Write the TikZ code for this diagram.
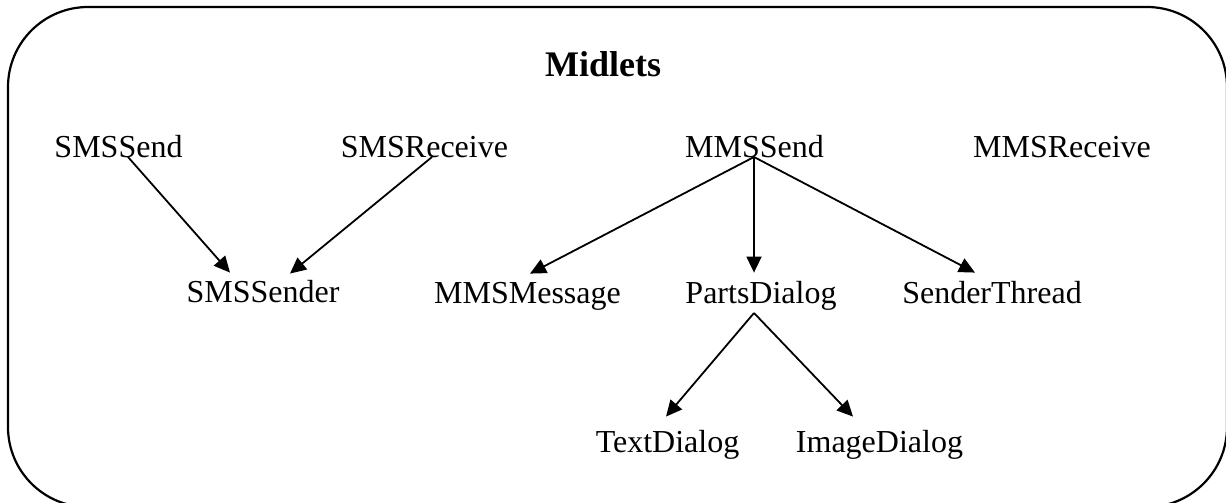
\documentclass[tikz,border=0pt]{standalone}
\usepackage{fontspec}
\setmainfont{Liberation Serif}
\usetikzlibrary{arrows.meta}

\begin{document}
\begin{tikzpicture}[x=1pt, y=-1pt,
  label/.style={inner sep=0pt, anchor=base, font=\fontsize{32}{38}\selectfont},
  heading/.style={inner sep=0pt, anchor=base, font=\fontsize{36}{42}\selectfont\bfseries},
  arr/.style={line width=1.8pt, -{Triangle[length=16pt,width=15pt]}},
  frame/.style={line width=2.2pt, rounded corners=80pt}]
  \useasboundingbox (0,0) rectangle (1226,503);
  \clip (0,0) rectangle (1226,503);
  \fill[white] (0,0) rectangle (1226,503);

  % outer rounded frame
  \draw[frame] (8,7) rectangle (1227,507);

  % title
  \node[heading] (title) at (603,77) {Midlets};

  % midlets
  \node[label] (smssend)    at (118.5,157) {SMSSend};
  \node[label] (smsreceive) at (424.5,157) {SMSReceive};
  \node[label] (mmssend)    at (754.5,157) {MMSSend};
  \node[label] (mmsreceive) at (1062,157)  {MMSReceive};

  % helper classes
  \node[label] (smssender)    at (263,302)   {SMSSender};
  \node[label] (mmsmessage)   at (527.5,303) {MMSMessage};
  \node[label] (partsdialog)  at (761,303)   {PartsDialog};
  \node[label] (senderthread) at (992,303)   {SenderThread};
  \node[label] (textdialog)   at (667.5,452) {TextDialog};
  \node[label] (imagedialog)  at (879.5,452) {ImageDialog};

  % usage arrows
  \draw[arr] ([xshift=9.5pt]smssend.base) -- ([xshift=-33pt,yshift=7pt]smssender.north);
  \draw[arr] ([xshift=7.5pt]smsreceive.base) -- ([xshift=27pt,yshift=6pt]smssender.north);

  \draw[arr] ([xshift=-0.5pt]mmssend.base) -- ([xshift=2.5pt,yshift=8pt]mmsmessage.north);
  \draw[arr] ([xshift=-0.5pt]mmssend.base) -- ([xshift=-7pt,yshift=8pt]partsdialog.north);
  \draw[arr] ([xshift=-0.5pt]mmssend.base) -- ([xshift=-17pt,yshift=8pt]senderthread.north);

  \draw[arr] ([xshift=-7pt,yshift=-10pt]partsdialog.base) -- ([xshift=-1.5pt,yshift=13pt]textdialog.north);
  \draw[arr] ([xshift=-7pt,yshift=-10pt]partsdialog.base) -- ([xshift=-26.5pt,yshift=13pt]imagedialog.north);
\end{tikzpicture}
\end{document}
